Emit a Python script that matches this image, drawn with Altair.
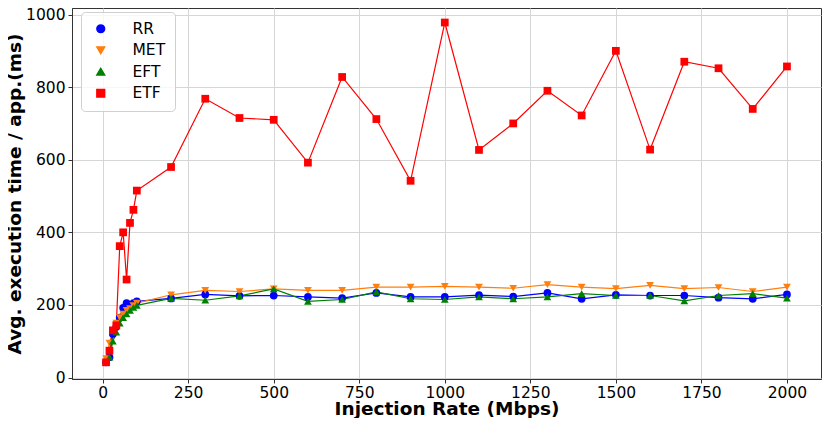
import altair as alt
import pandas as pd

x_vals = [10, 20, 30, 40, 50, 60, 70, 80, 90, 100,
          200, 300, 400, 500, 600, 700, 800, 900, 1000,
          1100, 1200, 1300, 1400, 1500, 1600, 1700, 1800, 1900, 2000]

rr = [42, 56, 120, 140, 165, 192, 205, 200, 205, 210,
      218, 229, 225, 226, 222, 219, 233, 222, 222,
      227, 223, 233, 217, 228, 226, 226, 220, 217, 229]
met = [52, 95, 130, 150, 165, 175, 185, 190, 198, 205,
       228, 240, 237, 244, 240, 240, 249, 249, 251,
       249, 246, 256, 249, 245, 254, 245, 248, 237, 249]
eft = [42, 56, 100, 125, 150, 165, 175, 185, 193, 199,
       218, 213, 225, 244, 210, 215, 236, 217, 215,
       222, 217, 222, 231, 226, 226, 211, 226, 231, 219]
etf = [42, 74, 130, 144, 362, 400, 270, 426, 462, 515,
       580, 768, 715, 710, 592, 828, 712, 542, 978,
       627, 700, 790, 722, 900, 628, 870, 852, 740, 857]

series_names = ["RR", "MET", "EFT", "ETF"]
series_colors = ["#0000ff", "#ff7f0e", "#008000", "#ff0000"]
series_shapes = ["circle", "triangle-down", "triangle-up", "square"]

rows = []
for name, vals in zip(series_names, [rr, met, eft, etf]):
    for xv, yv in zip(x_vals, vals):
        rows.append({"rate": xv, "time": yv, "series": name})
df = pd.DataFrame(rows)

x_enc = alt.X("rate:Q",
              scale=alt.Scale(domain=[-89.5, 2099.5], nice=False, zero=False),
              axis=alt.Axis(values=[0, 250, 500, 750, 1000, 1250, 1500, 1750, 2000],
                            format="d", title="Injection Rate (Mbps)"))
y_enc = alt.Y("time:Q",
              scale=alt.Scale(domain=[-4, 1018], nice=False, zero=False),
              axis=alt.Axis(values=[0, 200, 400, 600, 800, 1000], format="d",
                            title="Avg. execution time / app.(ms)"))
legend = alt.Legend(title=None, orient="none", legendX=9, legendY=4,
                    labelExpr="datum.label + '\u00a0\u00a0'")
color_enc = alt.Color("series:N",
                      scale=alt.Scale(domain=series_names, range=series_colors),
                      legend=legend)
shape_enc = alt.Shape("series:N",
                      scale=alt.Scale(domain=series_names, range=series_shapes),
                      legend=legend)

lines = alt.Chart(df).mark_line(strokeWidth=1.2).encode(
    x=x_enc, y=y_enc, color=color_enc,
)
points = alt.Chart(df).mark_point(filled=True, opacity=1, size=60).encode(
    x=x_enc, y=y_enc, color=color_enc, shape=shape_enc,
)

chart = alt.layer(lines, points).properties(
    width=749, height=371,
    padding={"left": 64, "top": 0, "right": 1, "bottom": 39},
    autosize=alt.AutoSizeParams(type="none"),
).configure_view(
    stroke="#333333", strokeWidth=1
).configure_axis(
    labelFont="DejaVu Sans", labelFontSize=15.5, labelColor="black",
    titleFont="DejaVu Sans", titleFontSize=18.5, titleFontWeight="bold", titleColor="black",
    gridColor="#d6d6d6", gridWidth=1, domainColor="#333333", tickColor="#333333",
    tickSize=4, labelPadding=3,
).configure_axisX(
    titlePadding=-1, labelPadding=2,
).configure_axisY(
    titlePadding=1,
).configure_legend(
    labelFont="DejaVu Sans", labelFontSize=15.5, labelColor="black",
    symbolSize=60, labelOffset=24, symbolOffset=3,
    padding=9, rowPadding=4.5, fillColor="rgba(255,255,255,0.8)",
    strokeColor="#d0d0d0", cornerRadius=4,
)

chart.save("out.html", embed_options={"renderer": "svg", "actions": False})
